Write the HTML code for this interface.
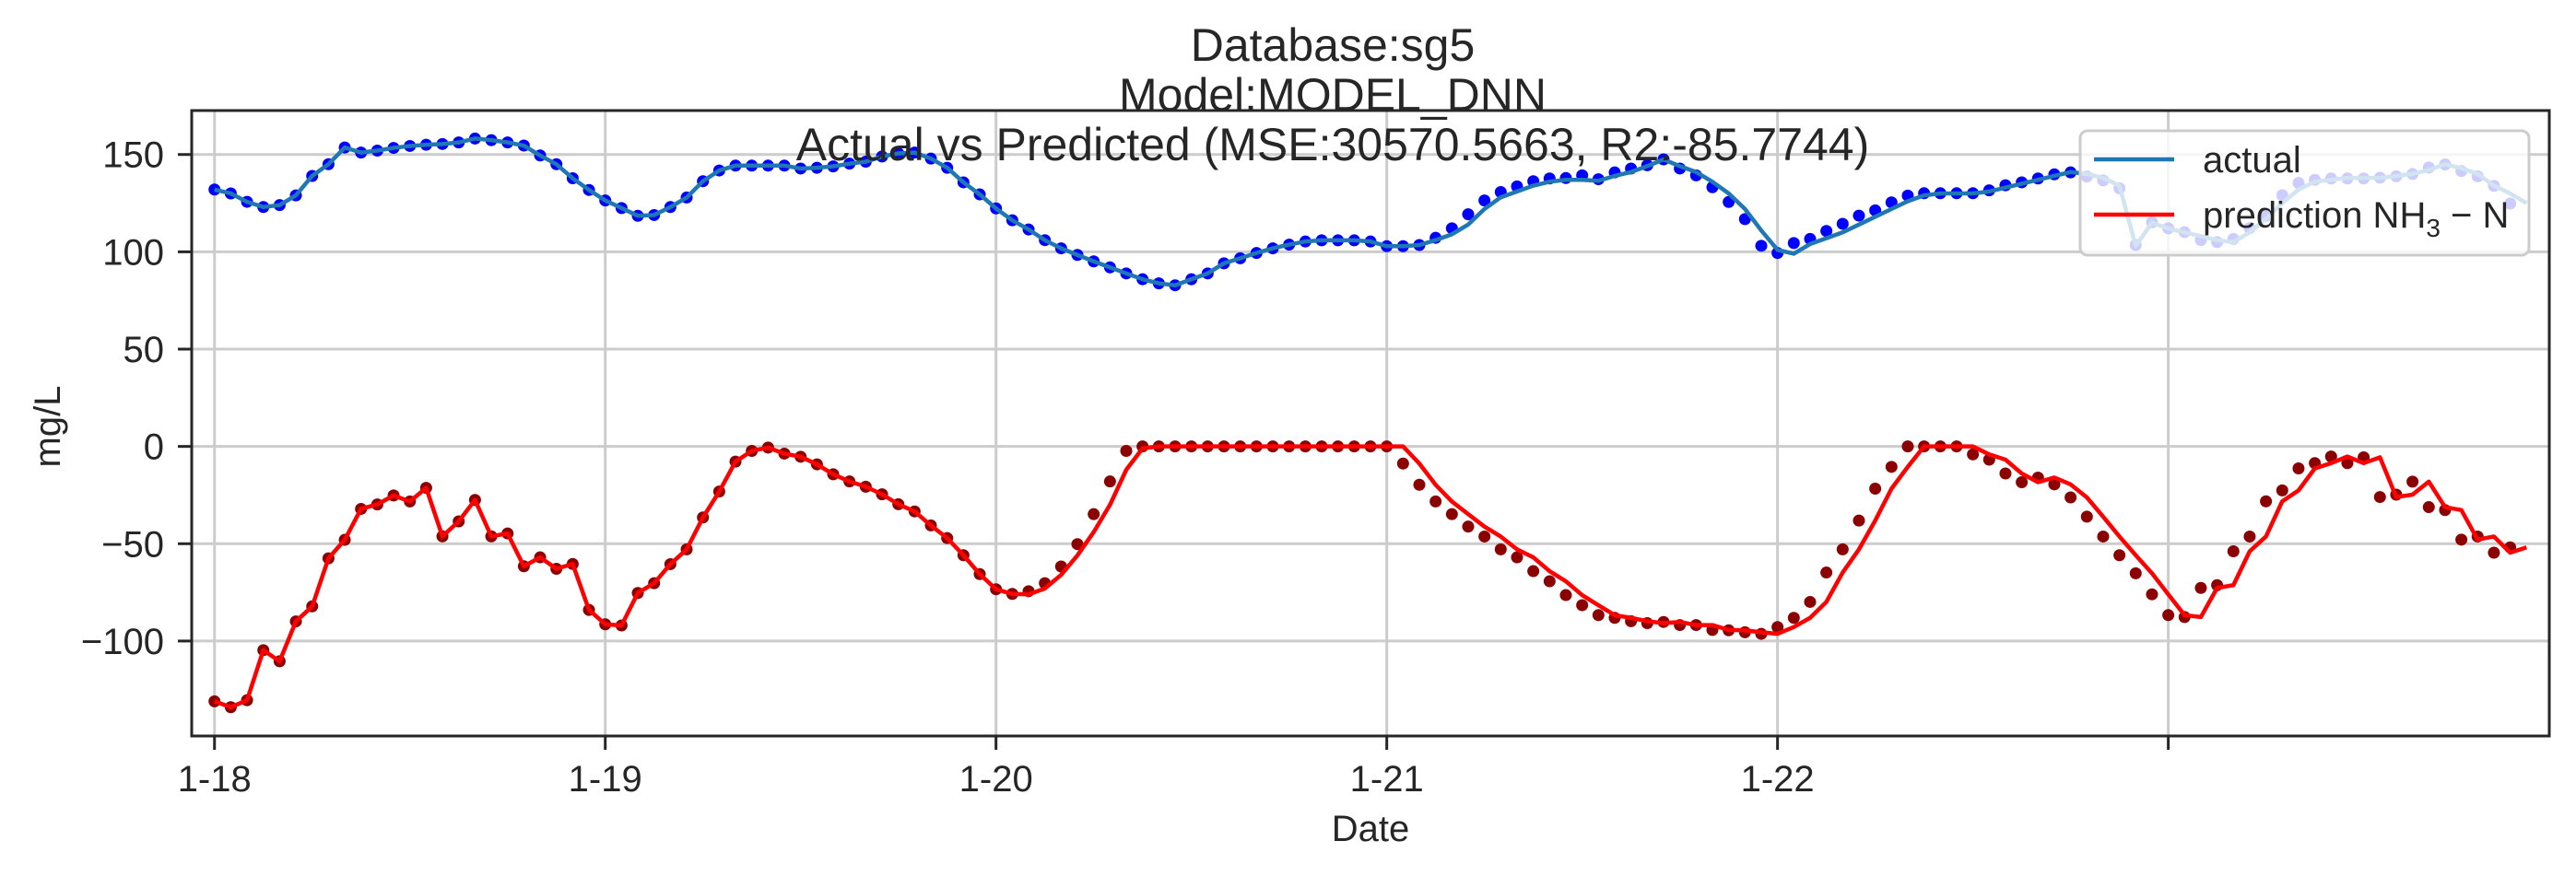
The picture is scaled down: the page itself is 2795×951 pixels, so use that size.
<!DOCTYPE html>
<html><head><meta charset="utf-8">
<style>
html,body{margin:0;padding:0;background:#fff;}
svg{display:block;font-family:"Liberation Sans",Arial,sans-serif;}
</style></head>
<body>
<svg id="chart" width="2795" height="951" viewBox="0 0 2795 951" xmlns="http://www.w3.org/2000/svg">
<g id="title" fill="#262626" font-size="50" text-anchor="middle">
<text x="1446" y="66">Database:sg5</text>
<text x="1446" y="120">Model:MODEL_DNN</text>
</g>
<g id="grid"></g>
<g id="marks"></g>
<text x="1446" y="174" fill="#262626" font-size="50" text-anchor="middle">Actual vs Predicted (MSE:30570.5663, R2:-85.7744)</text>
<g id="legend">
<rect x="2257" y="142" width="487" height="135" rx="8" fill="#fff" fill-opacity="0.8" stroke="#cccccc" stroke-width="3"/>
<line x1="2272" y1="173" x2="2359" y2="173" stroke="#1f77b4" stroke-width="4.5"/>
<text x="2390" y="187" font-size="40" fill="#262626">actual</text>
<line x1="2272" y1="233" x2="2359" y2="233" stroke="#ff0000" stroke-width="4.5"/>
<text x="2390" y="247" font-size="40" fill="#262626">prediction NH<tspan font-size="28" dy="10">3</tspan><tspan dy="-10"> − N</tspan></text>
</g>
<g id="axes"></g>
<text x="1487" y="913" font-size="40" fill="#262626" text-anchor="middle">Date</text>
<text transform="translate(65,463) rotate(-90)" font-size="40" fill="#262626" text-anchor="middle">mg/L</text>
</svg>
<script>
const blueDots = [132,130,125.7,123,124,129,139,145,153.6,151,152,153.4,154.4,155,155.4,156.2,158.2,157.4,156.2,154.6,149.5,145,137.8,131.8,126.4,122.5,118.5,
118.9,123,127.9,136.3,141.8,144.3,144.3,144.3,144.3,142.8,143.2,143.9,145.3,146.3,149,150.6,151,147.9,143.2,135.7,129.5,122.3,116.2,
111.5,106,101.8,98.4,95.1,92,88.9,85.9,83.8,82.8,85.9,88.9,94.1,96.7,99.4,101.8,103.7,105.3,105.9,105.9,105.9,105.3,102.9,102.9,103.5,
107.2,112.1,119.3,126.4,130.7,133.6,136.3,137.7,137.9,139.3,137.3,140.8,142.8,144.5,147.5,142.8,139.3,133.2,125.6,116.8,103.1,99.4,104.5,106.6,110.7,114.4,
118.6,121.3,125.4,128.9,130.1,130.1,130.1,130.1,131.6,134.2,135.7,137.7,139.8,140.8,138.7,136.7,132.6,103.5,115.2,112.1,110.1,106,105,106.6,112.2,118.5,129.1,135.4,137,137.7,137.7,137.7,138.1,138.8,140,143.3,144.9,141.5,138.8,133.9,124.8];
const blueLine = [132,130,125.7,123,124,129,139,145,153.6,151,152,153.4,154.4,155,155.4,156.2,158.2,157.4,156.2,154.6,149.5,145,137.8,131.8,126.4,122.5,118.5,
118.9,123,127.9,136.3,141.8,144.3,144.3,144.3,144.3,142.8,143.2,143.9,145.3,146.3,149,150.6,151,147.9,143.2,135.7,129.5,122.3,116.2,
111.5,106,101.8,98.4,95.1,92,88.9,85.9,83.8,82.8,85.9,88.9,94.1,96.7,99.4,101.8,103.7,105.3,105.9,105.9,105.9,105.3,102.9,102.9,103.5,
106,109,114,122,128,131,134,136,137,137,136.5,139,141,144,147.5,144,141,136,130,122,111,101,99,104,107,110,
114,118,122,126,129,130,130,130,131,133,135,137,139,141,140,138,134,103,115,112,110,108,106,105,110,117,125,132,136,137,138,138,138,139,140,142,145,143,140,134,130,125];
const redDots = [-131,-134,-130.4,-104.7,-110.4,-89.9,-82.2,-57.5,-48,-32.1,-29.8,-25.2,-28.3,-21.3,-46.2,-38.5,-27.5,-46.2,-44.7,-61.6,-57,-62.9,-60.4,-84,-91.4,-92,-75.3,
-70.3,-60.5,-52.9,-36.5,-23.2,-7.8,-2.3,-0.6,-3.7,-5.3,-9.2,-14.3,-18,-20.7,-24.6,-29.7,-33.4,-40.6,-47.1,-55.9,-65.6,-73.4,-75.8,
-74.4,-70.3,-61.7,-50.2,-34.8,-18,-2.3,0,0,0,0,0,0,0,0,0,0,0,0,0,0,0,0,-8.8,-19.7,
-28.3,-34.8,-41.2,-46.3,-52.9,-57,-64.1,-69.3,-76.4,-81.6,-86.7,-88.1,-89.8,-90.8,-90.2,-91.8,-91.8,-94.3,-94.5,-95.5,-96.3,-92.8,-88.1,-79.9,-64.8,-52.9,
-38.1,-21.7,-10.5,0,0,0,0,-4.1,-6.8,-13.9,-18.4,-16,-19.5,-26.2,-36.1,-46.3,-55.9,-65.2,-76,-86.7,-87.7,-72.7,-71.3,-53.9,-46.3,
-28.2,-22.6,-11.3,-8.6,-5.2,-8.6,-5.6,-26,-24.8,-18.1,-31.2,-32.7,-47.9,-46.3,-54.6,-51.9];
const redLine = [-131,-134,-130.4,-104.7,-110.4,-89.9,-82.2,-57.5,-48,-32.1,-29.8,-25.2,-28.3,-21.3,-46.2,-38.5,-27.5,-46.2,-44.7,-61.6,-57,-62.9,-60.4,-84,-91.4,-92,-75.3,
-70.3,-60.5,-52.9,-36.5,-23.2,-7.8,-2.3,-0.6,-3.7,-5.3,-9.2,-14.3,-18,-20.7,-24.6,-29.7,-33.4,-40.6,-47.1,-55.9,-65.6,-73.4,-75.8,
-76,-73,-66,-56,-44,-30,-12,-1,0,0,0,0,0,0,0,0,0,0,0,0,0,0,0,0,-8.8,
-19.7,-28.3,-34.8,-41.2,-46.3,-52.9,-57,-64.1,-69.3,-76.4,-81.6,-86.7,-88.1,-89.8,-90.8,-90.2,-91.8,-91.8,-94.3,-94.5,-95.5,-96.3,-92.8,-88.1,-79.9,
-64.8,-52.9,-38.1,-21.7,-10.5,0,0,0,0,-4.1,-6.8,-13.9,-18.4,-16,-19.5,-26.2,-36.1,-46.3,-55.9,-65.2,-76,-86.7,-87.7,-72.7,-71.3,-53.9,
-46.3,-28.2,-22.6,-11.3,-8.6,-5.2,-8.6,-5.6,-26,-24.8,-18.1,-31.2,-32.7,-47.9,-46.3,-54.6,-51.9];
const yTicks = [150,100,50,0,-50,-100];
const xTickIdx = [0,24,48,72,96,120];
const xTickLabels = ["1-18","1-19","1-20","1-21","1-22",""];

const NS = "http://www.w3.org/2000/svg";
const L = 208, R = 2766, T = 120, B = 799;
const Y0 = 172.6, Y1 = -148.8;
const X0 = -1.4, X1 = 143.4;
function sx(i){ return L + (i - X0) / (X1 - X0) * (R - L); }
function sy(v){ return T + (Y0 - v) / (Y0 - Y1) * (B - T); }
function mk(tag, attrs, parent){ const e = document.createElementNS(NS, tag); for (const k in attrs) e.setAttribute(k, attrs[k]); parent.appendChild(e); return e; }

const grid = document.getElementById('grid');
const axes = document.getElementById('axes');
const marks = document.getElementById('marks');

yTicks.forEach(v => {
  const g = mk('line', {x1:L, x2:R, y1:sy(v), y2:sy(v), stroke:'#cccccc', 'stroke-width':3}, grid);
  
  
  const t = mk('line', {x1:L-15, x2:L, y1:sy(v), y2:sy(v), stroke:'#262626', 'stroke-width':3}, axes);
  
  
  const lb = mk('text', {x:L-30, y:sy(v)+14, 'font-size':40, fill:'#262626', 'text-anchor':'end'}, axes);
  lb.textContent = v < 0 ? '\u2212' + Math.abs(v) : String(v);
  
  
});
xTickIdx.forEach((i, k) => {
  const g = mk('line', {x1:sx(i), x2:sx(i), y1:T, y2:B, stroke:'#cccccc', 'stroke-width':3}, grid);
  
  
  const t = mk('line', {x1:sx(i), x2:sx(i), y1:B, y2:B+15, stroke:'#262626', 'stroke-width':3}, axes);
  
  
  const lb = mk('text', {x:sx(i), y:859, 'font-size':40, fill:'#262626', 'text-anchor':'middle'}, axes);
  lb.textContent = xTickLabels[k];
  
  
});
const frame = mk('rect', {x:L, y:T, width:R-L, height:B-T, fill:'none', stroke:'#262626', 'stroke-width':3}, axes);



function dots(arr, color, name){
  arr.forEach((v, i) => {
    const c = mk('circle', {cx:sx(i), cy:sy(v), r:6.5, fill:color}, marks);
    
    
  });
}
function line(arr, color, name){
  const p = mk('polyline', {points: arr.map((v, i) => sx(i) + ',' + sy(v)).join(' '), fill:'none', stroke:color, 'stroke-width':4.5, 'stroke-linejoin':'round'}, marks);
  
  
}
dots(blueDots, '#0000ff', 'actual-point');
dots(redDots, '#8b0000', 'true-point');
line(blueLine, '#1f77b4', 'actual-line');
line(redLine, '#ff0000', 'prediction-line');
</script>
</body></html>
